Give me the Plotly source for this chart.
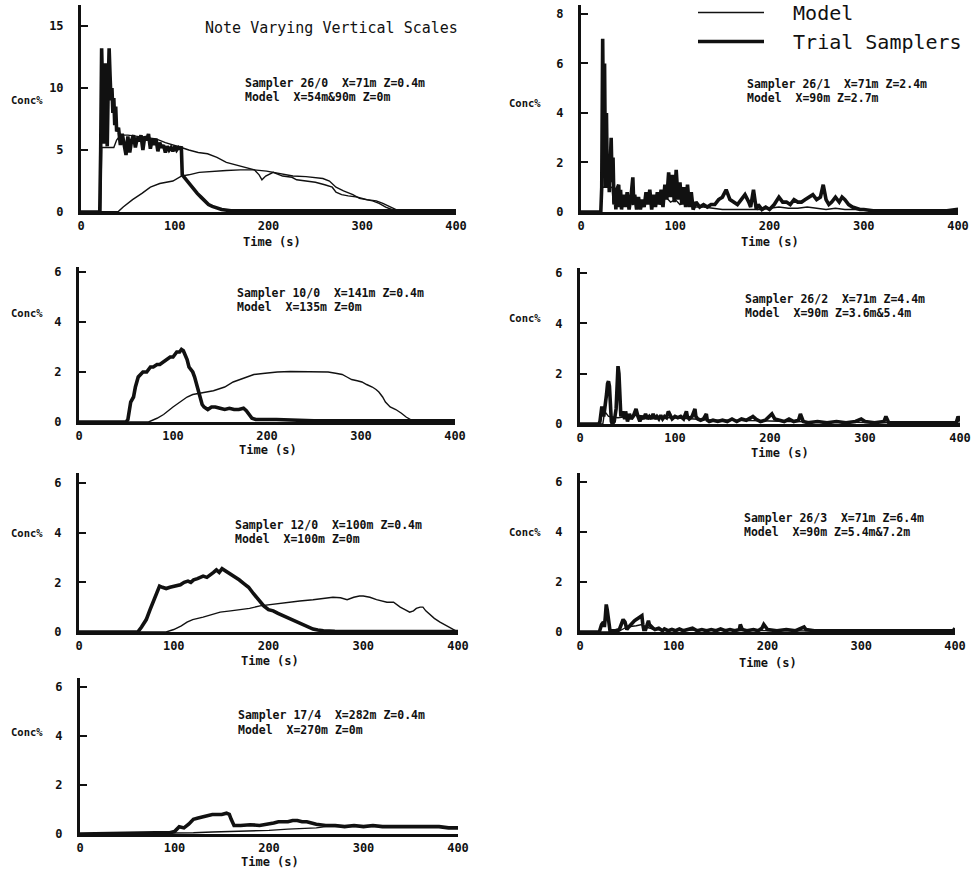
import plotly.graph_objects as go

W, H = 977, 875

# ---------------- DATA ----------------
x_ticks = [0, 100, 200, 300, 400]

# Panel 1: Sampler 26/0, Model X=54m & 90m
t_s260 = [0,20,21,22,23,24,25,26,27,28,29,30,31,32,33,34,35,36,37,38,40,42,44,46,48,50,52,54,56,58,60,62,64,66,68,70,72,74,76,78,80,82,84,86,88,90,92,94,96,98,100,102,104,106,107,108,110,113,116,120,124,128,132,136,140,145,150,160,180,200,250,300,350,400]
c_s260 = [0,0,5.0,13.2,10.0,5.5,9.0,12.0,7.0,5.3,10.0,13.2,11.0,9.0,10.0,8.0,9.2,7.0,8.5,6.5,6.8,5.4,6.3,5.6,4.6,6.1,4.8,5.8,6.2,5.2,6.0,5.7,6.2,5.0,6.1,5.8,6.3,5.1,5.9,5.4,5.9,4.9,5.6,5.2,5.4,4.8,5.3,5.0,5.2,4.9,5.3,5.0,5.2,5.1,5.3,3.0,2.8,2.5,2.2,1.9,1.5,1.2,0.9,0.6,0.45,0.3,0.2,0.1,0.1,0.1,0.1,0.1,0.1,0.1]
t_m54 = [0,21,22,24,30,35,38,42,50,60,70,80,90,100,107,115,125,135,145,155,165,175,185,190,193,197,205,215,225,230,240,250,260,268,272,278,285,295,305,315,322,328,334,340,400]
c_m54 = [0,0,5.2,5.2,5.2,5.2,5.8,6.2,6.2,6.1,6.0,5.9,5.6,5.4,5.2,5.0,4.8,4.7,4.4,4.0,3.8,3.6,3.4,3.0,2.6,2.9,3.2,2.9,2.8,2.6,2.5,2.4,2.2,2.0,1.6,1.4,1.3,1.2,1.0,0.9,0.7,0.5,0.3,0.05,0.05]
t_m90 = [0,35,40,45,55,65,74,84,98,107,115,126,140,155,170,184,198,212,226,240,248,258,265,272,280,290,297,305,311,318,325,335,340,400]
c_m90 = [0,0,0.05,0.4,1.0,1.5,2.0,2.3,2.5,2.9,3.0,3.2,3.3,3.35,3.4,3.4,3.3,3.1,2.9,2.85,2.8,2.7,2.5,2.0,1.7,1.4,1.1,1.0,0.9,0.7,0.4,0.1,0.05,0.05]

# Panel 2: Sampler 26/1, Model X=90m Z=2.7m
t_s261 = [0,21,22,23,24,25,26,27,28,29,30,31,32,33,34,35,36,37,38,40,41,42,43,45,47,49,51,53,55,56,57,59,61,63,65,67,69,71,73,75,77,79,81,83,85,87,89,91,93,95,97,99,101,103,105,107,109,111,113,115,117,119,122,126,130,134,138,142,146,150,154,158,162,166,170,174,178,180,183,186,188,190,192,196,200,205,210,214,218,222,226,230,234,238,242,246,250,254,257,260,263,266,270,274,277,280,284,288,292,296,300,310,330,360,400]
c_s261 = [0,0,1.0,7.0,2.5,6.0,1.0,4.0,1.0,2.0,0.8,2.5,3.0,1.2,2.2,0.3,0.8,0.1,0.9,1.1,0.2,0.9,0.1,0.7,0.2,0.8,0.1,0.6,1.4,0.3,0.7,0.1,0.6,0.1,0.5,0.2,0.8,0.3,0.9,0.1,0.7,0.2,0.8,0.3,0.9,0.2,1.1,0.5,1.6,0.6,1.5,0.4,1.7,0.5,1.2,0.3,1.0,0.2,1.1,0.2,0.8,0.1,0.4,0.2,0.3,0.2,0.3,0.3,0.5,0.6,0.9,0.5,0.4,0.3,0.5,0.7,0.4,0.2,0.9,0.1,0.3,0.2,0.1,0.2,0.1,0.3,0.6,0.4,0.4,0.3,0.5,0.4,0.4,0.5,0.6,0.7,0.5,0.6,1.1,0.5,0.3,0.4,0.6,0.4,0.6,0.5,0.3,0.2,0.15,0.1,0.1,0.05,0.05,0.05,0.05]
t_m261 = [0,21,22,26,30,33,34,38,42,46,50,55,60,65,70,75,80,85,90,95,100,105,110,115,120,130,140,150,160,170,180,190,200,210,220,230,240,250,260,270,280,290,300,320,340,360,380,400]
c_m261 = [0,0,1.0,1.0,1.0,1.0,0.4,0.3,0.5,0.3,0.4,0.3,0.5,0.3,0.4,0.5,0.4,0.3,0.6,0.4,0.5,0.3,0.4,0.3,0.2,0.2,0.15,0.1,0.1,0.1,0.1,0.1,0.15,0.2,0.15,0.15,0.2,0.15,0.1,0.15,0.1,0.1,0.1,0.08,0.05,0.05,0.05,0.15]

# Panel 3: Sampler 10/0, Model X=135m
t_s100 = [0,50,52,55,58,60,63,66,68,72,76,79,83,86,90,93,97,100,104,107,109,111,113,115,117,119,121,123,125,127,129,131,133,137,141,145,150,155,160,165,170,175,178,181,184,188,195,210,250,300,350,400]
c_s100 = [0,0,0.1,0.8,1.0,1.4,1.8,1.9,2.0,2.0,2.2,2.2,2.3,2.3,2.4,2.5,2.6,2.6,2.8,2.8,2.9,2.85,2.7,2.5,2.2,2.1,2.0,1.8,1.5,1.2,0.9,0.7,0.6,0.5,0.6,0.6,0.55,0.5,0.55,0.5,0.5,0.55,0.45,0.3,0.15,0.1,0.1,0.1,0.05,0.05,0.05,0.05]
t_m135 = [0,74,83,90,100,107,115,121,130,143,155,164,175,186,198,211,225,236,250,265,273,280,285,290,296,301,306,312,316,319,323,326,331,337,343,348,355,370,400]
c_m135 = [0,0,0.15,0.3,0.6,0.8,1.0,1.1,1.15,1.25,1.4,1.6,1.75,1.9,1.95,2.0,2.02,2.02,2.02,2.0,1.95,1.9,1.8,1.7,1.65,1.6,1.5,1.4,1.3,1.2,1.0,0.8,0.6,0.5,0.35,0.2,0.05,0.05,0.05]

# Panel 4: Sampler 26/2, Model X=90m Z=3.6m & 5.4m
t_s262 = [0,20,21,23,25,27,28,29,30,31,32,33,34,36,38,39,40,41,42,43,45,47,48,50,52,54,56,58,59,61,63,65,67,69,71,73,75,77,79,81,83,85,87,89,91,93,95,97,100,103,106,109,112,113,115,118,121,122,124,127,130,133,134,136,140,145,150,155,160,165,170,175,180,182,185,190,195,200,202,205,210,215,220,225,230,232,235,240,250,260,270,280,290,296,300,310,320,322,325,340,360,380,396,398,400]
c_s262 = [0,0,0.1,0.7,0.3,0.8,1.2,1.6,1.7,1.5,0.5,0.1,0.0,0.1,0.6,1.8,2.3,2.0,1.0,0.3,0.5,0.2,0.5,0.1,0.4,0.2,0.3,0.5,0.6,0.3,0.1,0.3,0.2,0.4,0.2,0.3,0.2,0.4,0.2,0.3,0.2,0.35,0.2,0.3,0.25,0.5,0.3,0.2,0.3,0.25,0.3,0.2,0.5,0.3,0.2,0.3,0.6,0.3,0.2,0.15,0.2,0.4,0.15,0.1,0.15,0.1,0.15,0.1,0.2,0.1,0.2,0.15,0.25,0.3,0.2,0.1,0.15,0.3,0.4,0.2,0.15,0.1,0.2,0.1,0.15,0.4,0.1,0.05,0.1,0.05,0.1,0.05,0.1,0.2,0.1,0.05,0.1,0.3,0.05,0.05,0.05,0.05,0.05,0.3,0.1]
t_m262 = [0,24,26,30,40,50,60,70,80,90,100,120,140,160,180,200,220,240,260,280,300,320,340,360,380,400]
c_m262 = [0,0,0.5,0.3,0.25,0.3,0.35,0.3,0.3,0.25,0.25,0.2,0.15,0.15,0.12,0.12,0.1,0.1,0.08,0.08,0.06,0.05,0.05,0.04,0.03,0.03]

# Panel 5: Sampler 12/0, Model X=100m
t_s120 = [0,62,66,71,75,78,82,85,88,92,96,100,104,107,111,115,118,121,125,128,131,135,139,142,145,148,151,153,156,160,164,169,174,179,184,189,195,200,205,210,216,221,226,232,237,242,247,252,258,270,300,350,400]
c_s120 = [0,0,0.2,0.5,0.9,1.2,1.6,1.85,1.8,1.75,1.8,1.85,1.9,1.9,2.0,2.05,2.0,2.1,2.15,2.2,2.25,2.2,2.3,2.4,2.5,2.4,2.55,2.5,2.45,2.35,2.25,2.1,1.95,1.8,1.55,1.3,1.05,0.9,0.85,0.75,0.65,0.55,0.5,0.4,0.3,0.2,0.12,0.08,0.05,0.03,0.02,0.02,0.02]
t_m100 = [0,92,100,108,114,120,131,140,149,160,170,180,191,205,219,233,247,258,268,276,283,290,296,300,307,314,320,325,332,339,344,349,353,356,360,363,366,370,375,381,386,391,395,398,400]
c_m100 = [0,0,0.1,0.25,0.4,0.5,0.6,0.7,0.8,0.85,0.9,0.95,1.05,1.12,1.2,1.25,1.3,1.35,1.4,1.38,1.3,1.4,1.45,1.45,1.4,1.3,1.25,1.2,1.2,1.0,0.9,0.8,0.85,0.95,1.0,1.0,0.85,0.7,0.55,0.4,0.3,0.2,0.1,0.05,0.0]

# Panel 6: Sampler 26/3, Model X=90m Z=5.4m & 7.2m
t_s263 = [0,20,21,23,25,26,27,28,29,30,31,32,34,38,42,44,46,48,49,50,52,54,56,58,60,62,64,66,67,68,70,72,73,74,76,78,80,84,88,90,94,98,102,106,110,115,120,125,130,135,140,145,150,155,160,165,170,171,173,178,185,190,194,196,200,210,220,230,239,241,250,260,280,300,320,340,360,380,398,400]
c_s263 = [0,0,0.05,0.3,0.4,0.2,0.6,1.1,0.9,0.6,0.2,0.05,0.05,0.05,0.1,0.3,0.5,0.4,0.2,0.1,0.2,0.3,0.4,0.45,0.5,0.55,0.6,0.65,0.3,0.1,0.1,0.3,0.45,0.3,0.2,0.15,0.1,0.15,0.05,0.12,0.05,0.1,0.05,0.12,0.05,0.1,0.15,0.05,0.1,0.05,0.1,0.05,0.12,0.05,0.1,0.05,0.1,0.3,0.1,0.05,0.1,0.05,0.15,0.3,0.1,0.05,0.1,0.05,0.2,0.1,0.05,0.05,0.05,0.05,0.05,0.05,0.05,0.05,0.05,0.15]
t_m263 = [0,40,45,50,60,66,70,80,100,150,200,250,300,350,400]
c_m263 = [0,0,0.1,0.2,0.25,0.3,0.2,0.1,0.08,0.06,0.05,0.04,0.03,0.03,0.03]

# Panel 7: Sampler 17/4, Model X=270m
t_s174 = [0,20,40,60,80,95,100,105,110,115,120,125,130,135,140,145,150,155,158,160,163,170,180,190,200,205,210,215,220,225,230,235,240,245,250,260,270,280,290,300,310,320,330,340,350,360,370,380,390,400]
c_s174 = [0,0.02,0.02,0.03,0.05,0.05,0.1,0.3,0.25,0.4,0.6,0.65,0.7,0.75,0.8,0.8,0.8,0.85,0.8,0.6,0.35,0.35,0.38,0.35,0.4,0.45,0.5,0.5,0.5,0.55,0.55,0.5,0.5,0.45,0.4,0.35,0.35,0.3,0.35,0.3,0.35,0.3,0.3,0.3,0.28,0.3,0.28,0.3,0.25,0.25]
t_m270 = [0,100,120,140,160,180,200,220,240,250,260,280,300,320,340,360,380,400]
c_m270 = [0,0.02,0.05,0.08,0.1,0.12,0.15,0.2,0.22,0.25,0.3,0.3,0.3,0.3,0.3,0.3,0.3,0.3]

pairs = [(t_s260,c_s260),(t_m54,c_m54),(t_m90,c_m90),(t_s261,c_s261),(t_m261,c_m261),
         (t_s100,c_s100),(t_m135,c_m135),(t_s262,c_s262),(t_m262,c_m262),(t_s120,c_s120),
         (t_m100,c_m100),(t_s263,c_s263),(t_m263,c_m263),(t_s174,c_s174),(t_m270,c_m270)]
for i,(a,b) in enumerate(pairs):
    assert len(a) == len(b), (i, len(a), len(b))

# ---------------- LAYOUT ----------------
def px_x(p): return p / W
def px_y(p): return 1 - p / H

# (axis suffix, x px domain, y px domain (bottom, top), y max, y ticks)
panels = [
    ("",  (81, 456),  (212, 5),   16.7, [0, 5, 10, 15]),
    ("2", (581, 958), (212, 5),   8.36, [0, 2, 4, 6, 8]),
    ("3", (79, 455),  (422, 267), 6.2,  [0, 2, 4, 6]),
    ("4", (580, 960), (424, 268), 6.2,  [0, 2, 4, 6]),
    ("5", (79, 458),  (632, 473), 6.4,  [0, 2, 4, 6]),
    ("6", (580, 955), (632, 473), 6.36, [0, 2, 4, 6]),
    ("7", (80, 458),  (834, 678), 6.38, [0, 2, 4, 6]),
]

MONO = "DejaVu Sans Mono"
fig = go.Figure()

series = [
    (0, t_m54, c_m54, "m"), (0, t_m90, c_m90, "m"), (0, t_s260, c_s260, "s"),
    (1, t_m261, c_m261, "m"), (1, t_s261, c_s261, "s"),
    (2, t_m135, c_m135, "m"), (2, t_s100, c_s100, "s"),
    (3, t_m262, c_m262, "m"), (3, t_s262, c_s262, "s"),
    (4, t_m100, c_m100, "m"), (4, t_s120, c_s120, "s"),
    (5, t_m263, c_m263, "m"), (5, t_s263, c_s263, "s"),
    (6, t_m270, c_m270, "m"), (6, t_s174, c_s174, "s"),
]
shown = set()
for pi, t, c, kind in series:
    suf = panels[pi][0]
    name = "  Model" if kind == "m" else "  Trial Samplers"
    show = kind not in shown
    shown.add(kind)
    fig.add_trace(go.Scatter(
        x=t, y=c, mode="lines", name=name, legendgroup=kind, showlegend=show,
        line=dict(color="#111111", width=(1.4 if kind == "m" else 3.6)),
        xaxis="x" + suf, yaxis="y" + suf, hoverinfo="skip"))

layout = dict(
    width=W, height=H, margin=dict(l=0, r=0, t=0, b=0, autoexpand=False),
    paper_bgcolor="white", plot_bgcolor="white",
    font=dict(family=MONO, color="#111111"),
    legend=dict(x=px_x(693), y=1 + 7 / H, xanchor="left", yanchor="top",
                font=dict(family=MONO, size=20, color="#111111"),
                itemwidth=66, traceorder="grouped", tracegroupgap=0,
                bgcolor="rgba(0,0,0,0)"),
)
for suf, (x0, x1), (yb, yt), ymax, yt_vals in panels:
    layout["xaxis" + suf] = dict(
        domain=[px_x(x0), px_x(x1)], anchor="y" + suf, range=[0, 400],
        tickvals=x_ticks, ticktext=[str(v) for v in x_ticks],
        showline=True, linewidth=3, linecolor="#111111", showgrid=False,
        zeroline=False, ticks="", ticklabelstandoff=1, automargin=False,
        tickfont=dict(family=MONO, size=12, weight="bold", color="#111111"))
    layout["yaxis" + suf] = dict(
        domain=[px_y(yb), px_y(yt)], anchor="x" + suf, range=[0, ymax],
        tickvals=yt_vals, ticktext=[str(v) for v in yt_vals],
        showline=True, linewidth=3, linecolor="#111111", showgrid=False,
        zeroline=False, ticks="inside", ticklen=7, tickwidth=2, tickcolor="#111111",
        ticklabelstandoff=12, automargin=False,
        tickfont=dict(family=MONO, size=12, weight="bold", color="#111111"))
fig.update_layout(**layout)

ann = []
def add_text(x, y, text, size=11, bold=True, xanchor="left"):
    ann.append(dict(x=px_x(x), y=px_y(y), xref="paper", yref="paper", text=text,
                    showarrow=False, xanchor=xanchor, yanchor="middle",
                    font=dict(family=MONO, size=size, color="#111111",
                              weight=("bold" if bold else "normal"))))

add_text(203, 28, "Note Varying Vertical Scales", size=15, bold=False)

labels = [
    ((243, 83), (243, 97), "Sampler 26/0  X=71m Z=0.4m", "Model  X=54m&amp;90m Z=0m"),
    ((745, 84), (745, 98), "Sampler 26/1  X=71m Z=2.4m", "Model  X=90m Z=2.7m"),
    ((235, 293), (235, 307), "Sampler 10/0  X=141m Z=0.4m", "Model  X=135m Z=0m"),
    ((743, 299), (743, 313), "Sampler 26/2  X=71m Z=4.4m", "Model  X=90m Z=3.6m&amp;5.4m"),
    ((233, 525), (233, 539), "Sampler 12/0  X=100m Z=0.4m", "Model  X=100m Z=0m"),
    ((742, 518), (742, 532), "Sampler 26/3  X=71m Z=6.4m", "Model  X=90m Z=5.4m&amp;7.2m"),
    ((236, 715), (236, 730), "Sampler 17/4  X=282m Z=0.4m", "Model  X=270m Z=0m"),
]
for p1, p2, s1, s2 in labels:
    add_text(p1[0], p1[1], s1, size=11.5)
    add_text(p2[0], p2[1], s2, size=11.5)

for (x, y) in [(27, 100), (27, 313), (27, 533), (27, 732), (525, 103), (525, 318), (525, 532)]:
    add_text(x, y, "Conc%", size=10.5, bold=True, xanchor="center")

for (x, y) in [(272, 242), (770, 242), (268, 450), (780, 453), (270, 661), (768, 663), (270, 862)]:
    add_text(x, y, "Time (s)", size=12, bold=True, xanchor="center")

fig.update_layout(annotations=ann)
fig.write_html("out.html")
